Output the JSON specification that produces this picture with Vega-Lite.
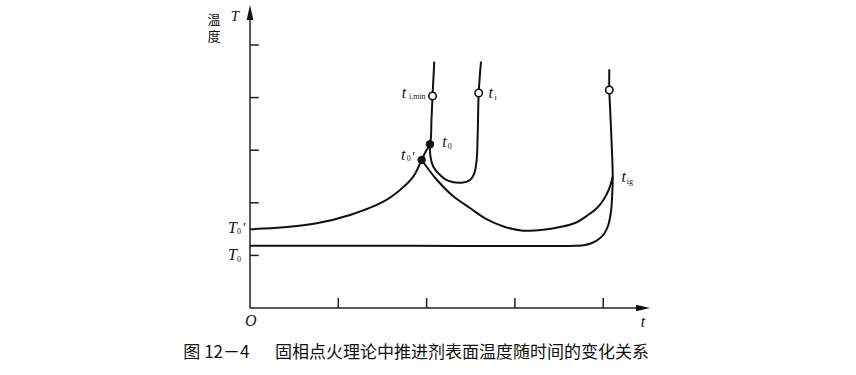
{
  "$schema": "https://vega.github.io/schema/vega-lite/v6.json",
  "width": 400,
  "height": 303,
  "autosize": "none",
  "padding": {"left": 250, "top": 5, "right": 206, "bottom": 67},
  "background": "white",
  "config": {"view": {"stroke": null}},
  "datasets": {
    "curves": [
      {"s": "A", "i": 1, "u": 0, "v": 1.496},
      {"s": "A", "i": 2, "u": 0.377, "v": 1.534},
      {"s": "A", "i": 3, "u": 0.755, "v": 1.61},
      {"s": "A", "i": 4, "u": 1.132, "v": 1.768},
      {"s": "A", "i": 5, "u": 1.51, "v": 2.021},
      {"s": "A", "i": 6, "u": 1.699, "v": 2.243},
      {"s": "A", "i": 7, "u": 1.849, "v": 2.496},
      {"s": "A", "i": 8, "u": 1.944, "v": 2.814},
      {"s": "A", "i": 9, "u": 1.993, "v": 2.985},
      {"s": "A", "i": 10, "u": 2.038, "v": 3.112},
      {"s": "A", "i": 11, "u": 2.055, "v": 3.574},
      {"s": "A", "i": 12, "u": 2.067, "v": 4.03},
      {"s": "A", "i": 13, "u": 2.087, "v": 4.683},
      {"s": "B", "i": 1, "u": 1.944, "v": 2.814},
      {"s": "B", "i": 2, "u": 2.118, "v": 2.433},
      {"s": "B", "i": 3, "u": 2.299, "v": 2.129},
      {"s": "B", "i": 4, "u": 2.492, "v": 1.901},
      {"s": "B", "i": 5, "u": 2.684, "v": 1.683},
      {"s": "B", "i": 6, "u": 2.888, "v": 1.54},
      {"s": "B", "i": 7, "u": 3.092, "v": 1.47},
      {"s": "B", "i": 8, "u": 3.318, "v": 1.487},
      {"s": "B", "i": 9, "u": 3.511, "v": 1.54},
      {"s": "B", "i": 10, "u": 3.681, "v": 1.616},
      {"s": "B", "i": 11, "u": 3.828, "v": 1.768},
      {"s": "B", "i": 12, "u": 3.93, "v": 1.901},
      {"s": "B", "i": 13, "u": 4.009, "v": 2.072},
      {"s": "B", "i": 14, "u": 4.066, "v": 2.262},
      {"s": "B", "i": 15, "u": 4.108, "v": 2.496},
      {"s": "C", "i": 1, "u": 2.038, "v": 3.112},
      {"s": "C", "i": 2, "u": 2.044, "v": 2.876},
      {"s": "C", "i": 3, "u": 2.076, "v": 2.686},
      {"s": "C", "i": 4, "u": 2.152, "v": 2.529},
      {"s": "C", "i": 5, "u": 2.242, "v": 2.42},
      {"s": "C", "i": 6, "u": 2.397, "v": 2.382},
      {"s": "C", "i": 7, "u": 2.492, "v": 2.433},
      {"s": "C", "i": 8, "u": 2.54, "v": 2.561},
      {"s": "C", "i": 9, "u": 2.567, "v": 2.814},
      {"s": "C", "i": 10, "u": 2.579, "v": 3.321},
      {"s": "C", "i": 11, "u": 2.59, "v": 4.087},
      {"s": "C", "i": 12, "u": 2.616, "v": 4.683},
      {"s": "D", "i": 1, "u": 0, "v": 1.184},
      {"s": "D", "i": 2, "u": 1.8, "v": 1.184},
      {"s": "D", "i": 3, "u": 3.681, "v": 1.184},
      {"s": "D", "i": 4, "u": 3.794, "v": 1.198},
      {"s": "D", "i": 5, "u": 3.873, "v": 1.236},
      {"s": "D", "i": 6, "u": 3.952, "v": 1.312},
      {"s": "D", "i": 7, "u": 4.009, "v": 1.407},
      {"s": "D", "i": 8, "u": 4.054, "v": 1.559},
      {"s": "D", "i": 9, "u": 4.086, "v": 1.806},
      {"s": "D", "i": 10, "u": 4.1, "v": 2.091},
      {"s": "D", "i": 11, "u": 4.108, "v": 2.496},
      {"s": "D", "i": 12, "u": 4.094, "v": 3.194},
      {"s": "D", "i": 13, "u": 4.079, "v": 3.764},
      {"s": "D", "i": 14, "u": 4.069, "v": 4.144},
      {"s": "D", "i": 15, "u": 4.069, "v": 4.538}
    ],
    "openPts": [
      {"name": "ti,min", "u": 2.067, "v": 4.03},
      {"name": "ti", "u": 2.59, "v": 4.087},
      {"name": "top", "u": 4.069, "v": 4.144}
    ],
    "filledPts": [
      {"name": "t0'", "u": 1.944, "v": 2.814},
      {"name": "t0", "u": 2.038, "v": 3.112}
    ],
    "mainLabels": [
      {"label": "T", "u": -0.198, "v": 1.42},
      {"label": "T", "u": -0.198, "v": 0.913},
      {"label": "t", "u": 1.745, "v": 3.987},
      {"label": "t", "u": 2.727, "v": 3.987},
      {"label": "t", "u": 2.203, "v": 3.067},
      {"label": "t", "u": 1.736, "v": 2.814},
      {"label": "t", "u": 4.233, "v": 2.401},
      {"label": "O", "u": 0.009, "v": -0.342},
      {"label": "t", "u": 4.451, "v": -0.367}
    ],
    "subLabels": [
      {"label": "0", "u": -0.147, "v": 1.401},
      {"label": "0", "u": -0.147, "v": 0.869},
      {"label": "i,min", "u": 1.8, "v": 3.97},
      {"label": "i", "u": 2.769, "v": 3.954},
      {"label": "0", "u": 2.239, "v": 3.032},
      {"label": "0", "u": 1.775, "v": 2.795},
      {"label": "ig", "u": 4.266, "v": 2.357}
    ],
    "primes": [
      {"label": "′", "u": -0.079, "v": 1.426},
      {"label": "′", "u": 1.838, "v": 2.776}
    ]
  },
  "encoding": {
    "x": {"field": "u", "type": "quantitative", "scale": {"domain": [0, 4.53], "nice": false, "zero": false}, "axis": null},
    "y": {"field": "v", "type": "quantitative", "scale": {"domain": [0, 5.76], "nice": false, "zero": false}, "axis": null}
  },
  "layer": [
    {
      "data": {"values": [{"u": 0, "v": 0}]},
      "mark": {"type": "rule", "color": "#222", "strokeWidth": 1.5},
      "encoding": {"y2": {"datum": 5.55}}
    },
    {
      "data": {"values": [{"u": 0, "v": 0}]},
      "mark": {"type": "rule", "color": "#222", "strokeWidth": 1.5},
      "encoding": {"x2": {"datum": 4.44}}
    },
    {
      "data": {"values": [{"u": 0, "v": 1}, {"u": 0, "v": 2}, {"u": 0, "v": 3}, {"u": 0, "v": 4}, {"u": 0, "v": 5}]},
      "mark": {"type": "rule", "color": "#222", "strokeWidth": 1.5},
      "encoding": {"x2": {"datum": 0.1}}
    },
    {
      "data": {"values": [{"u": 1, "v": 0}, {"u": 2, "v": 0}, {"u": 3, "v": 0}, {"u": 4, "v": 0}]},
      "mark": {"type": "rule", "color": "#222", "strokeWidth": 1.5},
      "encoding": {"y2": {"datum": 0.19}}
    },
    {
      "data": {"values": [{"u": 0, "v": 5.618}]},
      "mark": {"type": "point", "shape": "M0,-1L0.45,1L-0.45,1Z", "size": 225, "filled": true, "color": "#111", "opacity": 1, "strokeWidth": 0}
    },
    {
      "data": {"values": [{"u": 4.451, "v": 0}]},
      "mark": {"type": "point", "shape": "M1,0L-1,-0.45L-1,0.45Z", "size": 196, "filled": true, "color": "#111", "opacity": 1, "strokeWidth": 0}
    },
    {
      "data": {"name": "curves"},
      "mark": {"type": "line", "interpolate": "catmull-rom", "color": "#111", "strokeWidth": 2},
      "encoding": {"detail": {"field": "s"}, "order": {"field": "i", "type": "quantitative"}}
    },
    {
      "data": {"name": "openPts"},
      "mark": {"type": "point", "shape": "circle", "size": 55, "filled": false, "fill": "white", "fillOpacity": 1, "stroke": "#111", "strokeWidth": 1.6, "opacity": 1}
    },
    {
      "data": {"name": "filledPts"},
      "mark": {"type": "point", "shape": "circle", "size": 70, "filled": true, "color": "#111", "opacity": 1}
    },
    {
      "data": {"name": "mainLabels"},
      "mark": {"type": "text", "font": "Liberation Serif", "fontStyle": "italic", "fontSize": 16, "align": "center", "baseline": "alphabetic", "color": "#111"},
      "encoding": {"text": {"field": "label"}}
    },
    {
      "data": {"values": [{"label": "T", "u": -0.17, "v": 5.462}]},
      "mark": {"type": "text", "font": "Liberation Serif", "fontStyle": "italic", "fontSize": 15, "align": "center", "baseline": "alphabetic", "color": "#111"},
      "encoding": {"text": {"field": "label"}}
    },
    {
      "data": {"name": "subLabels"},
      "mark": {"type": "text", "font": "Liberation Serif", "fontSize": 8, "align": "left", "baseline": "alphabetic", "color": "#111"},
      "encoding": {"text": {"field": "label"}}
    },
    {
      "data": {"name": "primes"},
      "mark": {"type": "text", "font": "Liberation Serif", "fontSize": 14, "align": "left", "baseline": "alphabetic", "color": "#111"},
      "encoding": {"text": {"field": "label"}}
    },
    {
      "data": {"values": [{"label": "温", "u": -0.408, "v": 5.48}, {"label": "度", "u": -0.408, "v": 5.15}]},
      "mark": {"type": "text", "font": "Noto Sans CJK SC", "fontSize": 13, "align": "center", "baseline": "middle", "color": "#111"},
      "encoding": {"text": {"field": "label"}}
    },
    {
      "data": {"values": [{"label": "图 12－4", "u": -0.755, "v": -0.861}, {"label": "固相点火理论中推进剂表面温度随时间的变化关系", "u": 0.283, "v": -0.861}]},
      "mark": {"type": "text", "font": "Noto Sans CJK SC", "fontSize": 17, "align": "left", "baseline": "middle", "color": "#111"},
      "encoding": {"text": {"field": "label"}}
    }
  ]
}
